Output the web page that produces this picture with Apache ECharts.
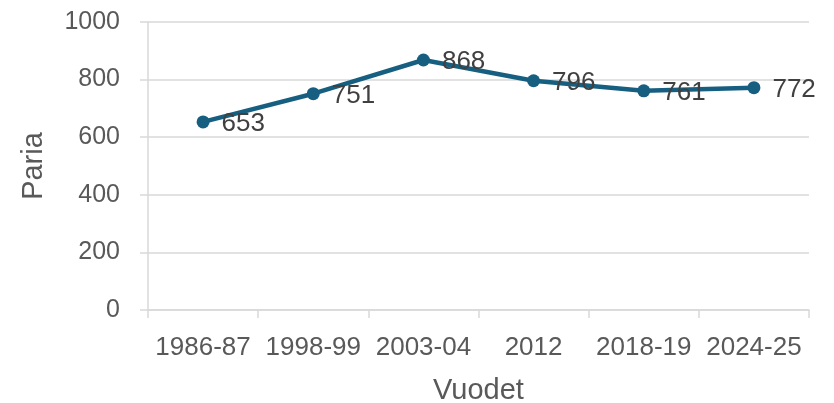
<!DOCTYPE html>
<html>
<head>
<meta charset="utf-8">
<script src="https://cdn.jsdelivr.net/npm/echarts@6/dist/echarts.min.js"></script>
<style>
  html, body { margin: 0; padding: 0; background: #fff; }
  #chart { width: 834px; height: 403px; }
</style>
</head>
<body>
<div id="chart"></div>
<script>
var years = ['1986-87', '1998-99', '2003-04', '2012', '2018-19', '2024-25'];
var pairs = [653, 751, 868, 796, 761, 772];
var yTicks = [0, 200, 400, 600, 800, 1000];

var myChart = echarts.init(document.getElementById('chart'));
var font = 'Liberation Sans';

var option = {
    animation: false,
    grid: {
        left: 148,
        right: 25,
        top: 22,
        bottom: 93,
        outerBoundsMode: 'none',
        containLabel: false
    },
    xAxis: {
        type: 'category',
        data: years,
        boundaryGap: true,
        name: 'Vuodet',
        nameLocation: 'middle',
        nameGap: 66,
        nameTextStyle: { color: '#595959', fontSize: 29, fontFamily: font },
        axisLine: { lineStyle: { color: '#d9d9d9', width: 1.5 } },
        axisTick: { show: true, length: 8, alignWithLabel: false, lineStyle: { color: '#d9d9d9', width: 1.5 } },
        axisLabel: { color: '#595959', fontSize: 26, fontFamily: font, margin: 25, interval: 0 }
    },
    yAxis: {
        type: 'value',
        min: yTicks[0],
        max: yTicks[yTicks.length - 1],
        interval: 200,
        name: 'Paria',
        nameLocation: 'middle',
        nameGap: 100,
        nameRotate: 90,
        nameTextStyle: { color: '#595959', fontSize: 29, fontFamily: font },
        axisLine: { show: true, lineStyle: { color: '#d9d9d9', width: 1.5 } },
        axisTick: { show: true, length: 8, lineStyle: { color: '#d9d9d9', width: 1.5 } },
        axisLabel: { color: '#595959', fontSize: 25, fontFamily: font, margin: 28, formatter: function (v) { return String(v); } },
        splitLine: { lineStyle: { color: '#d9d9d9', width: 1.5 } }
    },
    series: [
        {
            type: 'line',
            data: pairs,
            symbol: 'circle',
            symbolSize: 13,
            lineStyle: { color: '#175f80', width: 4.5 },
            itemStyle: { color: '#175f80' },
            label: {
                show: true,
                position: 'right',
                distance: 12,
                offset: [0, 2],
                color: '#404040',
                fontSize: 26,
                fontFamily: font
            }
        }
    ]
};

myChart.setOption(option);
</script>
</body>
</html>
